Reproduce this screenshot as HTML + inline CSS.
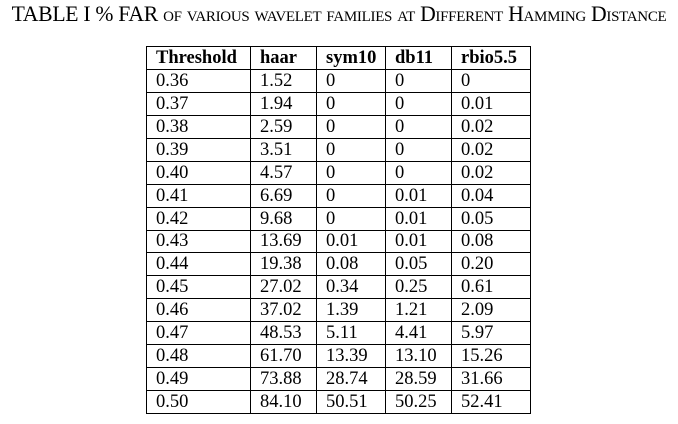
<!DOCTYPE html>
<html><head><style>
body{margin:0;width:678px;height:424px;background:#fff;font-family:"Liberation Serif",serif;color:#000;position:relative;overflow:hidden}
.t{position:absolute;top:2px;left:0;width:678px;text-align:center;font-size:21.7px;white-space:nowrap;font-variant:small-caps;letter-spacing:-0.3px}
table{position:absolute;left:146px;top:46px;border-collapse:collapse;font-size:18.5px}
td{border:1.3px solid #000;height:22.94px;padding:0 0 0 9px;line-height:20px;box-sizing:border-box}
tr:first-child td{font-weight:bold}
</style></head><body>
<div class="t">TABLE I % FAR of various wavelet families at Different Hamming Distance</div>
<table>
<colgroup><col style="width:104px"><col style="width:66px"><col style="width:69px"><col style="width:66px"><col style="width:79px"></colgroup>
<tr><td>Threshold</td><td>haar</td><td>sym10</td><td>db11</td><td>rbio5.5</td></tr>
<tr><td>0.36</td><td>1.52</td><td>0</td><td>0</td><td>0</td></tr>
<tr><td>0.37</td><td>1.94</td><td>0</td><td>0</td><td>0.01</td></tr>
<tr><td>0.38</td><td>2.59</td><td>0</td><td>0</td><td>0.02</td></tr>
<tr><td>0.39</td><td>3.51</td><td>0</td><td>0</td><td>0.02</td></tr>
<tr><td>0.40</td><td>4.57</td><td>0</td><td>0</td><td>0.02</td></tr>
<tr><td>0.41</td><td>6.69</td><td>0</td><td>0.01</td><td>0.04</td></tr>
<tr><td>0.42</td><td>9.68</td><td>0</td><td>0.01</td><td>0.05</td></tr>
<tr><td>0.43</td><td>13.69</td><td>0.01</td><td>0.01</td><td>0.08</td></tr>
<tr><td>0.44</td><td>19.38</td><td>0.08</td><td>0.05</td><td>0.20</td></tr>
<tr><td>0.45</td><td>27.02</td><td>0.34</td><td>0.25</td><td>0.61</td></tr>
<tr><td>0.46</td><td>37.02</td><td>1.39</td><td>1.21</td><td>2.09</td></tr>
<tr><td>0.47</td><td>48.53</td><td>5.11</td><td>4.41</td><td>5.97</td></tr>
<tr><td>0.48</td><td>61.70</td><td>13.39</td><td>13.10</td><td>15.26</td></tr>
<tr><td>0.49</td><td>73.88</td><td>28.74</td><td>28.59</td><td>31.66</td></tr>
<tr><td>0.50</td><td>84.10</td><td>50.51</td><td>50.25</td><td>52.41</td></tr>
</table>
</body></html>
